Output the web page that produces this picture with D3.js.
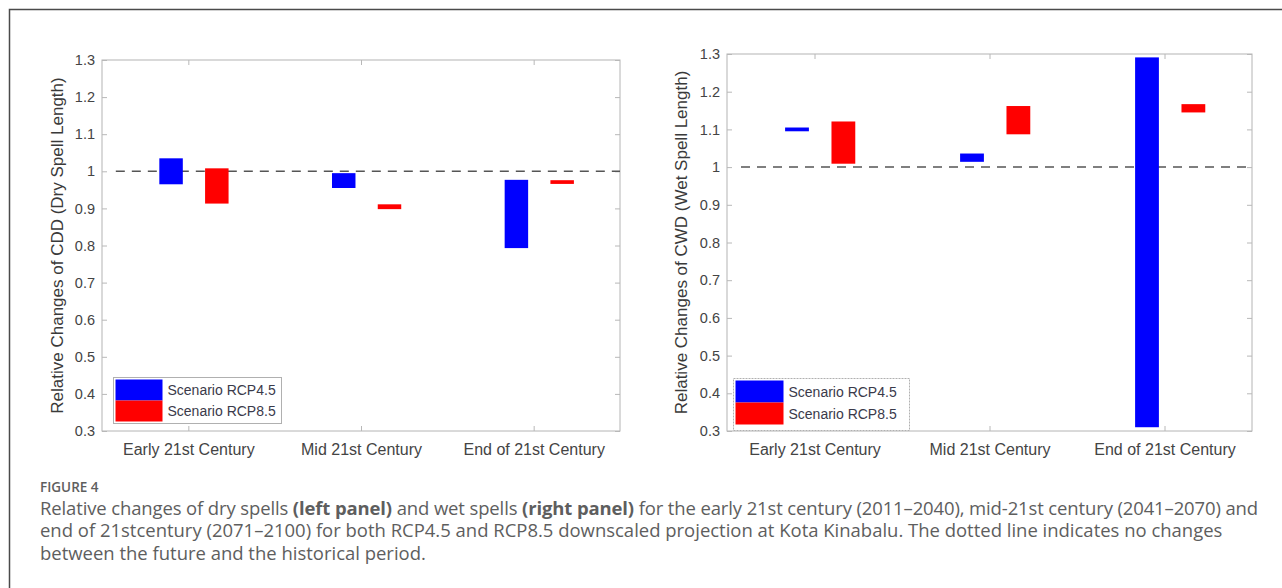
<!DOCTYPE html>
<html>
<head>
<meta charset="utf-8">
<script src="https://cdn.jsdelivr.net/npm/d3@7"></script>
<style>
  html, body { margin: 0; padding: 0; background: #fff; }
  svg { display: block; }
  .axis text { font-family: "Liberation Sans", Arial, sans-serif; fill: #444; }
  .axis line { stroke: #b8b8b8; }
  .caption { font-family: "Open Sans", "Noto Sans", sans-serif; fill: #5e5e5e; }
</style>
</head>
<body>
<div id="chart"></div>
<script>
// Figure 4: relative change of dry / wet spell length, two panels.
// Each bar is a floating range [low, high] per period and scenario.

const categories = ["Early 21st Century", "Mid 21st Century", "End of 21st Century"];
const scenarios = ["Scenario RCP4.5", "Scenario RCP8.5"];
const scenarioColors = ["#0000ff", "#ff0000"];
const yTicks = [0.3, 0.4, 0.5, 0.6, 0.7, 0.8, 0.9, 1.0, 1.1, 1.2, 1.3];

// Left panel — CDD (dry spell length)
const cddLow45 = [0.965, 0.955, 0.793];
const cddHigh45 = [1.035, 0.995, 0.977];
const cddLow85 = [0.913, 0.898, 0.966];
const cddHigh85 = [1.008, 0.911, 0.976];

// Right panel — CWD (wet spell length)
const cwdLow45 = [1.095, 1.014, 0.31];
const cwdHigh45 = [1.105, 1.036, 1.291];
const cwdLow85 = [1.009, 1.087, 1.145];
const cwdHigh85 = [1.121, 1.162, 1.167];

const captionLines = [
  [["Relative changes of dry spells ", false], ["(left panel)", true], [" and wet spells ", false],
   ["(right panel)", true], [" for the early 21st century (2011\u20132040), mid-21st century (2041\u20132070) and", false]],
  [["end of 21stcentury (2071\u20132100) for both RCP4.5 and RCP8.5 downscaled projection at Kota Kinabalu. The dotted line indicates no changes", false]],
  [["between the future and the historical period.", false]],
];

const W = 1282, H = 588;
// bar placement within a category slot, in x-data units
const BAR_W = 0.136;
const OFFSETS = [-0.1, 0.165];

const svg = d3.select("#chart").append("svg")
  .attr("width", W).attr("height", H);

svg.append("rect").attr("width", W).attr("height", H).attr("fill", "#fff");
// outer frame (right / bottom edges fall outside the view)
svg.append("rect")
  .attr("x", 9.5).attr("y", 9.5).attr("width", 1400).attr("height", 700)
  .attr("fill", "none").attr("stroke", "#4a4a4a").attr("stroke-width", 1.5);

function drawPanel(cfg) {
  const { left, top, right, bottom } = cfg.box;
  const x = d3.scaleLinear().domain([0.5, 3.5]).range([left, right]);
  const y = d3.scaleLinear().domain([0.3, 1.3]).range([bottom, top]);
  const g = svg.append("g");

  g.append("rect")
    .attr("x", left).attr("y", top)
    .attr("width", right - left).attr("height", bottom - top)
    .attr("fill", "#fff").attr("stroke", "#b4b4b4").attr("stroke-width", 1);

  const fmt = (d) => String(+d.toFixed(1));

  const yl = g.append("g").attr("class", "axis")
    .attr("transform", `translate(${left},0)`)
    .call(d3.axisLeft(y).tickValues(yTicks).tickFormat(fmt).tickSize(-5).tickPadding(7));
  yl.select(".domain").remove();
  yl.selectAll("text").attr("font-size", 14.5);

  const yr = g.append("g").attr("class", "axis")
    .attr("transform", `translate(${right},0)`)
    .call(d3.axisRight(y).tickValues(yTicks).tickFormat("").tickSize(-5));
  yr.select(".domain").remove();

  const xb = g.append("g").attr("class", "axis")
    .attr("transform", `translate(0,${bottom})`)
    .call(d3.axisBottom(x).tickValues([1, 2, 3]).tickFormat((d) => categories[d - 1])
      .tickSize(-5).tickPadding(13));
  xb.select(".domain").remove();
  xb.selectAll("text").attr("font-size", 16);

  const xt = g.append("g").attr("class", "axis")
    .attr("transform", `translate(0,${top})`)
    .call(d3.axisTop(x).tickValues([1, 2, 3]).tickFormat("").tickSize(-5));
  xt.select(".domain").remove();

  // reference line at 1 (no change)
  g.append("line")
    .attr("x1", x(0.58)).attr("x2", right)
    .attr("y1", y(1)).attr("y2", y(1))
    .attr("stroke", "#555").attr("stroke-width", 1.5)
    .attr("stroke-dasharray", "9,7");

  const series = [
    { low: cfg.low45, high: cfg.high45 },
    { low: cfg.low85, high: cfg.high85 },
  ];
  series.forEach((s, si) => {
    g.append("g").selectAll("rect")
      .data(categories.map((c, i) => ({ i, low: s.low[i], high: s.high[i] })))
      .join("rect")
      .attr("x", (d) => x(d.i + 1 + OFFSETS[si] - BAR_W / 2))
      .attr("width", x(BAR_W) - x(0))
      .attr("y", (d) => y(d.high))
      .attr("height", (d) => y(d.low) - y(d.high))
      .attr("fill", scenarioColors[si]);
  });

  // y label
  g.append("text")
    .attr("transform", `translate(${cfg.ylabelX},${(top + bottom) / 2}) rotate(-90)`)
    .attr("text-anchor", "middle").attr("dominant-baseline", "central")
    .attr("font-family", "Liberation Sans, Arial, sans-serif")
    .attr("font-size", 17).attr("fill", "#3a3a3a")
    .text(cfg.ylabel);

  // legend
  const lg = cfg.legend;
  const leg = g.append("g");
  leg.append("rect")
    .attr("x", lg.x).attr("y", lg.y).attr("width", lg.w).attr("height", lg.h)
    .attr("fill", "#fff").attr("stroke", "#b0b0b0").attr("stroke-width", 1)
    .attr("stroke-dasharray", lg.dash || null);
  scenarios.forEach((name, i) => {
    leg.append("rect")
      .attr("x", lg.x + 2).attr("y", lg.y + 2 + i * lg.row)
      .attr("width", lg.patch).attr("height", lg.row)
      .attr("fill", scenarioColors[i]);
    leg.append("text")
      .attr("x", lg.x + 2 + lg.patch + 5).attr("y", lg.y + 2 + i * lg.row + lg.row / 2)
      .attr("dominant-baseline", "central")
      .attr("font-family", "Liberation Sans, Arial, sans-serif")
      .attr("font-size", 14).attr("fill", "#3a3a4a")
      .text(name);
  });
}

drawPanel({
  box: { left: 102, top: 60, right: 620, bottom: 431 },
  ylabel: "Relative Changes of CDD (Dry Spell Length)",
  ylabelX: 57,
  low45: cddLow45, high45: cddHigh45, low85: cddLow85, high85: cddHigh85,
  legend: { x: 113.5, y: 377.5, w: 168, h: 46, patch: 47, row: 21 },
});

drawPanel({
  box: { left: 727, top: 54, right: 1252, bottom: 431 },
  ylabel: "Relative Changes of CWD (Wet Spell Length)",
  ylabelX: 681,
  low45: cwdLow45, high45: cwdHigh45, low85: cwdLow85, high85: cwdHigh85,
  legend: { x: 733.5, y: 378.5, w: 176, h: 52, patch: 48, row: 22, dash: "2,1" },
});

// caption
const capX = 40;
svg.append("text").attr("class", "caption")
  .attr("x", capX).attr("y", 492)
  .attr("font-size", 13.5).attr("font-weight", 600)
  .text("FIGURE 4");

const capYs = [514.5, 537, 559.5];
const capTexts = captionLines.map((parts, li) => {
  const t = svg.append("text").attr("class", "caption")
    .attr("x", capX).attr("y", capYs[li]).attr("font-size", 15);
  parts.forEach(([s, bold]) => {
    t.append("tspan").attr("font-weight", bold ? 700 : 400).text(s);
  });
  return t;
});
// font size from the second line's width, first line then padded to its end
const w1 = capTexts[1].node().getComputedTextLength();
const fs = 15 * ((1223 - capX) / w1);
capTexts.forEach((t) => t.attr("font-size", fs));
const line0 = capTexts[0];
const w0 = line0.node().getComputedTextLength();
const n0 = line0.text().length;
line0.attr("letter-spacing", ((1258 - capX) - w0) / n0);
</script>
</body>
</html>
